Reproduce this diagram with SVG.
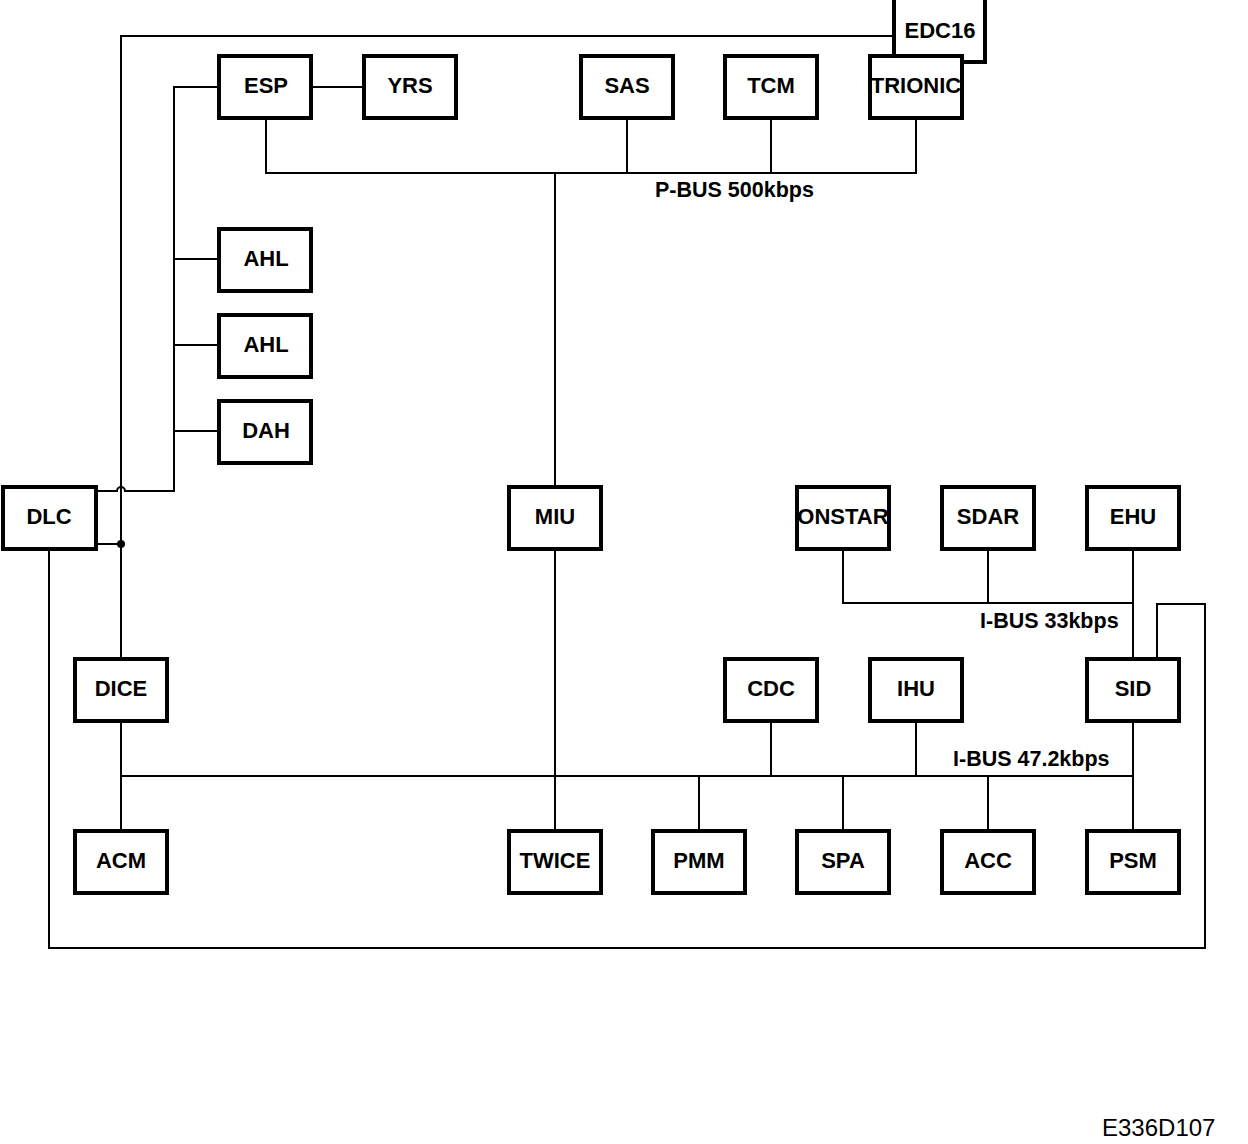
<svg xmlns="http://www.w3.org/2000/svg" width="1248" height="1144" viewBox="0 0 1248 1144">
<style>
.c{fill:none;stroke:#000;stroke-width:2}
.b{fill:#fff;stroke:#000;stroke-width:4}
.t{font-family:"Liberation Sans",Arial,sans-serif;font-weight:bold;font-size:22px;text-anchor:middle;fill:#000}
.l{font-family:"Liberation Sans",Arial,sans-serif;font-weight:bold;font-size:21.5px;fill:#000}
.r{font-family:"Liberation Sans",Arial,sans-serif;font-size:24px;fill:#000}
</style>
<rect width="1248" height="1144" fill="#fff"/>
<g id="connectors">
<path class="c" d="M893 36H121V658"/>
<path class="c" d="M97 491H117a4 4 0 0 1 8 0H174V87H218"/>
<path class="c" d="M174 259H218M174 345H218M174 431H218"/>
<path class="c" d="M97 544H121"/>
<circle cx="121" cy="544" r="4" fill="#000"/>
<path class="c" d="M313 87H362"/>
<path class="c" d="M266 119V173H916V119M627 119V173M771 119V173M555 173V486"/>
<path class="c" d="M555 550V830"/>
<path class="c" d="M121 722V830M121 776H1133M771 722V776M916 722V776M1133 722V830M699 776V830M843 776V830M988 776V830"/>
<path class="c" d="M843 550V603H1133M988 550V603M1133 550V658"/>
<path class="c" d="M1157 658V604H1205V948H49V550"/>
</g>
<g id="n-edc16"><rect class="b" x="894" y="-2" width="91" height="64"/><text class="t" x="940" y="38">EDC16</text></g>
<g id="n-esp"><rect class="b" x="219" y="56" width="92" height="62"/><text class="t" x="266" y="93">ESP</text></g>
<g id="n-yrs"><rect class="b" x="364" y="56" width="92" height="62"/><text class="t" x="410" y="93">YRS</text></g>
<g id="n-sas"><rect class="b" x="581" y="56" width="92" height="62"/><text class="t" x="627" y="93">SAS</text></g>
<g id="n-tcm"><rect class="b" x="725" y="56" width="92" height="62"/><text class="t" x="771" y="93">TCM</text></g>
<g id="n-trionic"><rect class="b" x="870" y="56" width="92" height="62"/><text class="t" x="916" y="93">TRIONIC</text></g>
<g id="n-ahl1"><rect class="b" x="219" y="229" width="92" height="62"/><text class="t" x="266" y="266">AHL</text></g>
<g id="n-ahl2"><rect class="b" x="219" y="315" width="92" height="62"/><text class="t" x="266" y="352">AHL</text></g>
<g id="n-dah"><rect class="b" x="219" y="401" width="92" height="62"/><text class="t" x="266" y="438">DAH</text></g>
<g id="n-dlc"><rect class="b" x="3" y="487" width="93" height="62"/><text class="t" x="49" y="524">DLC</text></g>
<g id="n-miu"><rect class="b" x="509" y="487" width="92" height="62"/><text class="t" x="555" y="524">MIU</text></g>
<g id="n-onstar"><rect class="b" x="797" y="487" width="92" height="62"/><text class="t" x="843" y="524">ONSTAR</text></g>
<g id="n-sdar"><rect class="b" x="942" y="487" width="92" height="62"/><text class="t" x="988" y="524">SDAR</text></g>
<g id="n-ehu"><rect class="b" x="1087" y="487" width="92" height="62"/><text class="t" x="1133" y="524">EHU</text></g>
<g id="n-dice"><rect class="b" x="75" y="659" width="92" height="62"/><text class="t" x="121" y="696">DICE</text></g>
<g id="n-cdc"><rect class="b" x="725" y="659" width="92" height="62"/><text class="t" x="771" y="696">CDC</text></g>
<g id="n-ihu"><rect class="b" x="870" y="659" width="92" height="62"/><text class="t" x="916" y="696">IHU</text></g>
<g id="n-sid"><rect class="b" x="1087" y="659" width="92" height="62"/><text class="t" x="1133" y="696">SID</text></g>
<g id="n-acm"><rect class="b" x="75" y="831" width="92" height="62"/><text class="t" x="121" y="868">ACM</text></g>
<g id="n-twice"><rect class="b" x="509" y="831" width="92" height="62"/><text class="t" x="555" y="868">TWICE</text></g>
<g id="n-pmm"><rect class="b" x="653" y="831" width="92" height="62"/><text class="t" x="699" y="868">PMM</text></g>
<g id="n-spa"><rect class="b" x="797" y="831" width="92" height="62"/><text class="t" x="843" y="868">SPA</text></g>
<g id="n-acc"><rect class="b" x="942" y="831" width="92" height="62"/><text class="t" x="988" y="868">ACC</text></g>
<g id="n-psm"><rect class="b" x="1087" y="831" width="92" height="62"/><text class="t" x="1133" y="868">PSM</text></g>
<g id="labels">
<text class="l" x="655" y="197">P-BUS 500kbps</text>
<text class="l" x="980" y="628">I-BUS 33kbps</text>
<text class="l" x="953" y="766">I-BUS 47.2kbps</text>
<text class="r" x="1102" y="1136">E336D107</text>
</g>
</svg>
